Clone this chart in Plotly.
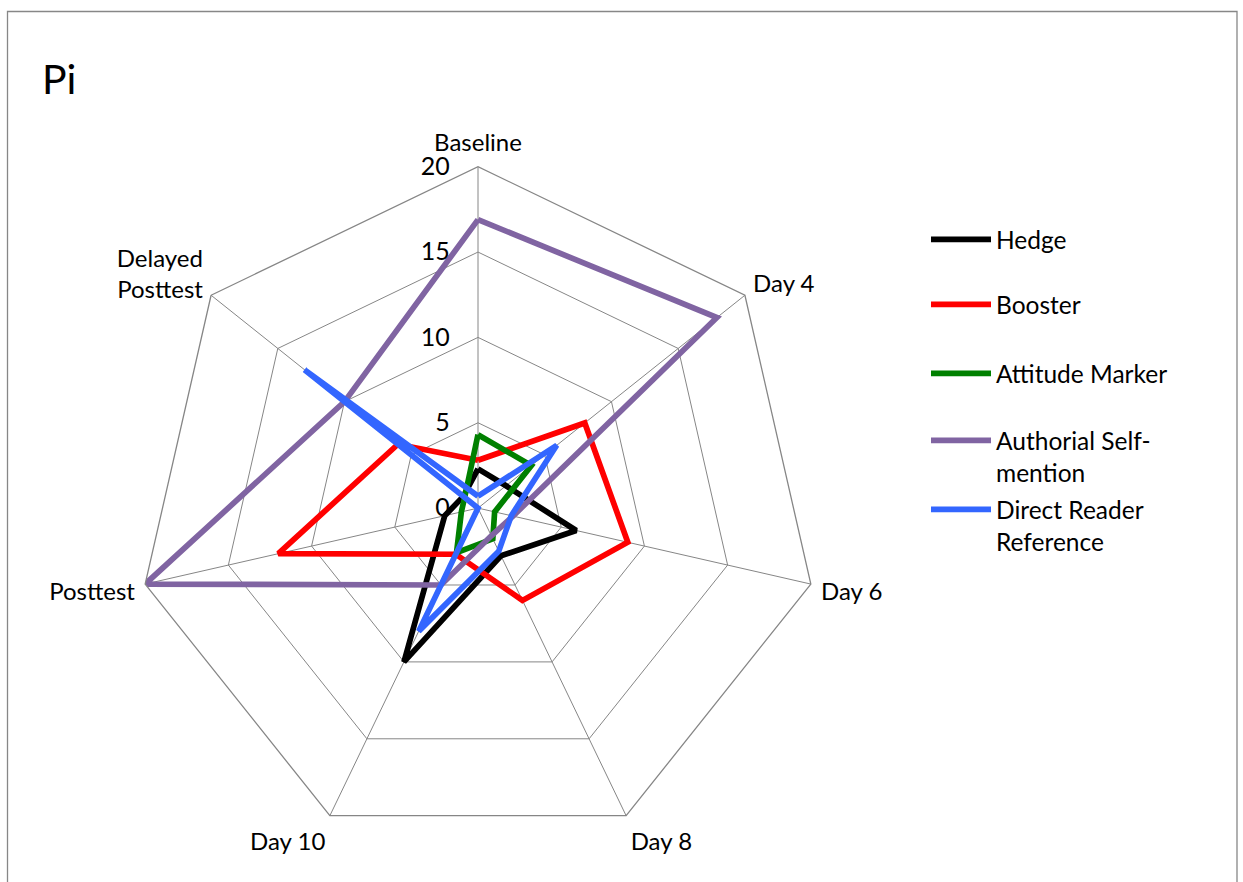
import plotly.graph_objects as go

# Radar chart of metadiscourse marker counts for "Pi" across sessions
categories = ["Baseline", "Day 4", "Day 6", "Day 8", "Day 10", "Posttest", "Delayed<br>Posttest"]

hedge = [2.3, 2.1, 5.9, 3.1, 10, 2, 1.1]
booster = [2.8, 8, 9, 6, 3, 12, 6]
attitude_marker = [4.3, 4, 1, 2, 2.9, 1, 1]
authorial_self_mention = [16.9, 17.9, 2.1, 1.8, 5, 20, 10]
direct_reader_reference = [0.7, 5.9, 2, 2.8, 8, 0, 13]

series = [
    ("Hedge", hedge, "#000000", "legend"),
    ("Booster", booster, "#FF0000", "legend2"),
    ("Attitude Marker", attitude_marker, "#008000", "legend3"),
    ("Authorial Self-<br>mention", authorial_self_mention, "#8064A2", "legend4"),
    ("Direct Reader<br>Reference", direct_reader_reference, "#3366FF", "legend5"),
]

FONT = "Lato"
W, H = 1243, 882
GRID = "#868686"

fig = go.Figure()
for name, vals, color, leg in series:
    fig.add_trace(go.Scatterpolar(
        r=vals + vals[:1],
        theta=categories + categories[:1],
        mode="lines",
        name=name,
        line=dict(color=color, width=5.7),
        legend=leg,
        showlegend=True,
    ))

# polar area: centre (478, 508) px, outer radius 341 px
cx, cy, R = 478.0, 508.1, 341.4
dom_x = [(cx - R) / W, (cx + R) / W]
dom_y = [(H - cy - R) / H, (H - cy + R) / H]

fig.update_layout(
    width=W, height=H,
    margin=dict(l=0, r=0, t=0, b=0),
    paper_bgcolor="white",
    showlegend=True,
    font=dict(family=FONT, size=24, color="black"),
    title=dict(text="Pi", x=42 / W, xanchor="left", y=1 - 80 / H, yanchor="middle",
               font=dict(family=FONT, size=41, color="black")),
    polar=dict(
        domain=dict(x=dom_x, y=dom_y),
        gridshape="linear",
        bgcolor="white",
        angularaxis=dict(
            direction="clockwise", rotation=90,
            showline=True, linecolor=GRID, linewidth=1.3,
            showgrid=True, gridcolor=GRID, gridwidth=1.3,
            ticks="outside", ticklen=5, tickcolor="rgba(0,0,0,0)",
            tickfont=dict(family=FONT, size=24, color="black"),
        ),
        radialaxis=dict(
            range=[0, 20], tick0=0, dtick=5, angle=90, tickangle=90,
            side="counterclockwise",
            showline=False, showgrid=True, gridcolor=GRID, gridwidth=1.3,
            ticks="outside", ticklen=19, tickcolor="rgba(0,0,0,0)",
            tickfont=dict(family=FONT, size=25, color="black"),
        ),
    ),
    shapes=[dict(type="rect", xref="paper", yref="paper",
                 x0=7.5 / W, x1=1237 / W, y0=-0.05, y1=1 - 11.5 / H,
                 line=dict(color="#878787", width=1.3), fillcolor="rgba(0,0,0,0)")],
)

legend_rows = {"legend": 238, "legend2": 303, "legend3": 372, "legend4": 439, "legend5": 508}
for leg, ytop in legend_rows.items():
    fig.update_layout({leg: dict(
        x=926 / W, xanchor="left", y=1 - (ytop - 21) / H, yanchor="top",
        bgcolor="rgba(0,0,0,0)", borderwidth=0, valign="top",
        font=dict(family=FONT, size=24.5, color="black"),
        itemwidth=60,
    )})

fig.write_html("out.html")
